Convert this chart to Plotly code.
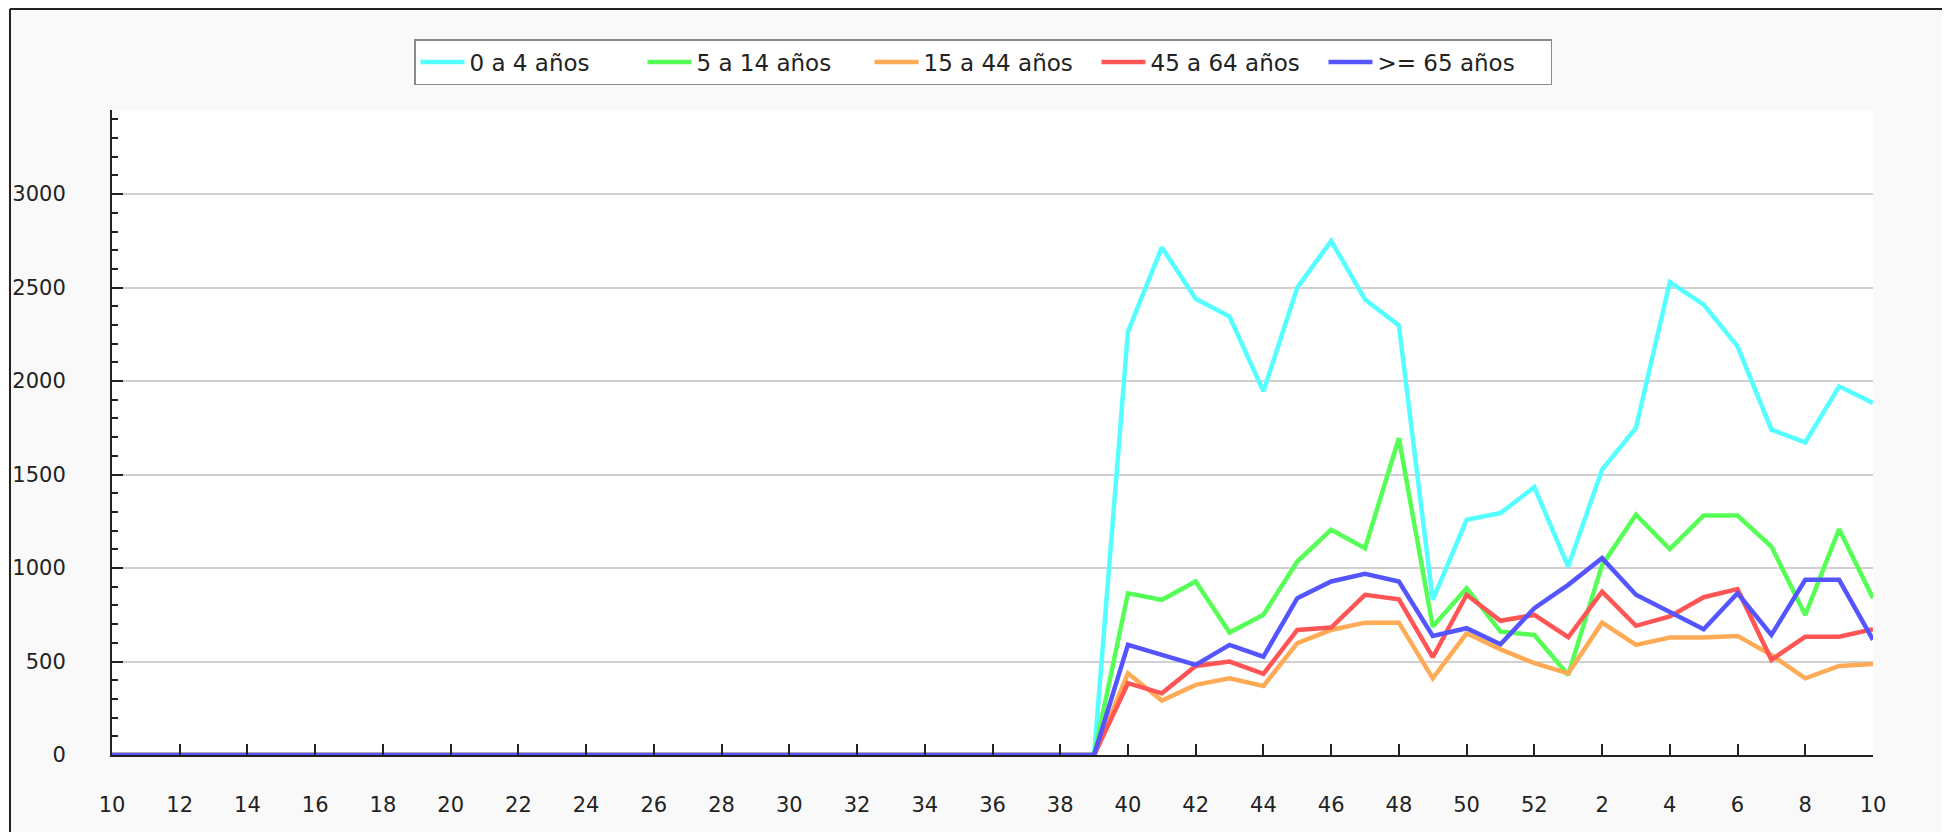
import plotly.graph_objects as go

# Week labels (week 10 of one year to week 10 of next year)
weeks = [10, 11, 12, 13, 14, 15, 16, 17, 18, 19, 20, 21, 22, 23, 24, 25, 26, 27, 28, 29,
         30, 31, 32, 33, 34, 35, 36, 37, 38, 39, 40, 41, 42, 43, 44, 45, 46, 47, 48, 49,
         50, 51, 52, 1, 2, 3, 4, 5, 6, 7, 8, 9, 10]

zeros_before = [0, 0, 0, 0, 0, 0, 0, 0, 0, 0, 0, 0, 0, 0, 0, 0, 0, 0, 0, 0,
                0, 0, 0, 0, 0, 0, 0, 0, 0, 0]

age_0_4 = zeros_before + [2265, 2715, 2440, 2345, 1945, 2500, 2750, 2436, 2297, 830, 1258, 1294, 1433,
                          1008, 1526, 1749, 2529, 2409, 2186, 1740, 1672, 1972, 1883]
age_5_14 = zeros_before + [865, 830, 928, 655, 750, 1035, 1205, 1106, 1695, 687, 892, 660, 642,
                           428, 1017, 1285, 1101, 1281, 1281, 1115, 749, 1208, 839]
age_15_44 = zeros_before + [437, 291, 375, 410, 369, 598, 669, 708, 708, 410, 651, 565, 491,
                            437, 708, 589, 628, 628, 637, 535, 410, 476, 487]
age_45_64 = zeros_before + [384, 330, 476, 500, 434, 669, 682, 857, 833, 523, 857, 718, 749,
                            630, 874, 691, 741, 844, 887, 509, 633, 633, 673]
age_65_plus = zeros_before + [589, 535, 482, 589, 526, 839, 928, 969, 928, 637, 678, 592, 785,
                              910, 1053, 857, 767, 673, 865, 642, 937, 937, 616]

series_names = ["0 a 4 años", "5 a 14 años", "15 a 44 años", "45 a 64 años", ">= 65 años"]
series_values = [age_0_4, age_5_14, age_15_44, age_45_64, age_65_plus]
series_colors = ["#55FFFF", "#55FF55", "#FFAA55", "#FF5555", "#5555FF"]

x_idx = list(range(len(weeks)))
tick_idx = x_idx[::2]
tick_txt = [str(weeks[i]) for i in tick_idx]

fig = go.Figure()
for name, vals, col in zip(series_names, series_values, series_colors):
    fig.add_trace(go.Scatter(x=x_idx, y=vals, mode="lines", name=name,
                             line=dict(color=col, width=4.5)))

font_family = "DejaVu Sans"
OFF = 8  # page body offset
L, R, T, B = 104, 85, 102, 85
W, H = 1950, 832
pw, ph = W - L - R, H - T - B


def px_to_paper_x(page_px):
    return (page_px - OFF - L) / pw


def px_to_paper_y(page_py):
    return (H - B - (page_py - OFF)) / ph


fig.update_layout(
    width=W, height=H,
    margin=dict(l=L, r=R, t=T, b=B, autoexpand=False),
    paper_bgcolor="#f9f9f9",
    plot_bgcolor="#ffffff",
    font=dict(family=font_family, size=20, color="#222222"),
    showlegend=True,
    legend=dict(
        orientation="h",
        x=px_to_paper_x(983), xanchor="center",
        y=px_to_paper_y(39), yanchor="top",
        bgcolor="#ffffff", bordercolor="#8a8a8a", borderwidth=1.5,
        font=dict(family=font_family, size=23, color="#222222"),
        itemwidth=44,
        entrywidth=168, entrywidthmode="pixels",
    ),
    xaxis=dict(
        range=[0, len(weeks) - 1],
        automargin=False,
        tickmode="array", tickvals=tick_idx, ticktext=tick_txt,
        ticks="inside", ticklen=11, tickwidth=1.5, tickcolor="#222222",
        showline=True, linecolor="#222222", linewidth=2,
        showgrid=False, zeroline=False,
        ticklabelstandoff=30,
        tickfont=dict(size=21),
    ),
    yaxis=dict(
        range=[0, 3450],
        automargin=False,
        tick0=0, dtick=500,
        ticks="inside", ticklen=11, tickwidth=1.5, tickcolor="#222222",
        minor=dict(ticks="inside", dtick=100, ticklen=6, tickwidth=1.5, tickcolor="#222222", showgrid=False),
        showline=True, linecolor="#222222", linewidth=2,
        showgrid=True, gridcolor="#d0d0d0", gridwidth=1.5,
        zeroline=False,
        ticklabelstandoff=40,
        tickfont=dict(size=21),
    ),
    shapes=[
        dict(type="line", xref="paper", yref="paper",
             x0=px_to_paper_x(10), x1=px_to_paper_x(1970),
             y0=px_to_paper_y(9), y1=px_to_paper_y(9),
             line=dict(color="#222222", width=2)),
        dict(type="line", xref="paper", yref="paper",
             x0=px_to_paper_x(10), x1=px_to_paper_x(10),
             y0=px_to_paper_y(9), y1=px_to_paper_y(850),
             line=dict(color="#222222", width=2)),
    ],
)

fig.write_html("out.html")
